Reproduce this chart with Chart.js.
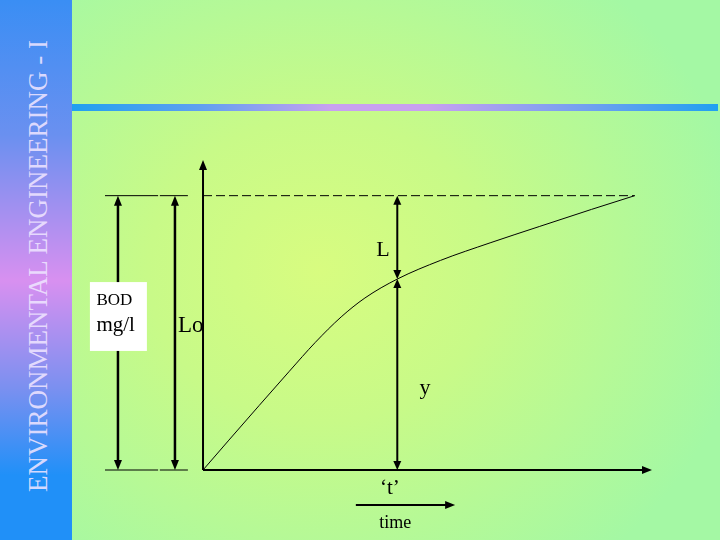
<!DOCTYPE html>
<html>
<head>
<meta charset="utf-8">
<script src="https://cdn.jsdelivr.net/npm/chart.js@4"></script>
<style>
  html,body{margin:0;padding:0;width:720px;height:540px;overflow:hidden;}
  #bg{position:absolute;left:0;top:0;width:720px;height:540px;
      background:radial-gradient(ellipse 430px 380px at 320px 270px,#d8fc80 0%,#c8fa88 40%,#a4f8a4 100%);}
  #side{position:absolute;left:0;top:0;width:72px;height:540px;
      background:linear-gradient(to bottom,#3a8ef4 0%,#6a90f0 25%,#d890f0 52%,#7a90f0 72%,#2090f8 88%,#2090f8 100%);}
  #sideText{position:absolute;left:38px;top:266px;white-space:nowrap;
      transform:translate(-50%,-50%) rotate(-90deg);
      font-family:"Liberation Serif",serif;font-size:27px;color:rgba(238,228,255,0.88);}
  #bar{position:absolute;left:72px;top:104px;width:646px;height:7px;
      background:linear-gradient(to right,#20a0f0 0%,#60a0f0 20%,#c8a0f0 40%,#c8a0f0 55%,#70a0f0 80%,#20a0f0 100%);}
  canvas{position:absolute;left:0;top:0;}
</style>
</head>
<body>
<div id="bg"></div>
<div id="side"><div id="sideText">ENVIRONMENTAL ENGINEERING - I</div></div>
<div id="bar"></div>
<canvas id="c" width="720" height="540"></canvas>
<script>
// Time (arbitrary units) and BOD exerted y (mg/l)
const timeT = [0, 0.6, 1.3, 2.0, 2.6, 3.2, 3.75, 4.5, 5.5, 6.65, 7.8, 9.0, 10.0];
const bodY  = [0, 1.09, 2.35, 3.6, 4.65, 5.58, 6.27, 6.96, 7.64, 8.28, 8.88, 9.5, 10.0];
const ultimateL0 = 10;      // ultimate BOD (dashed line)
const markT = 4.5;          // time 't'
const markY = 6.96;         // y at time 't'

const points = timeT.map((t, i) => ({x: t, y: bodY[i]}));

const ann = {
  bodArrowT: -1.97, bodTick: [-2.27, -1.04],
  loArrowT: -0.65, loTick: [-1.0, -0.35],
  box: {t0: -2.62, t1: -1.30, y0: 6.85, y1: 4.34},
  labels: [
    {text: 'BOD', t: -2.47, y: 6.17, font: '17px "Liberation Serif"', align: 'left'},
    {text: 'mg/l', t: -2.47, y: 5.25, font: '21px "Liberation Serif"', align: 'left'},
    {text: 'Lo', t: -0.58, y: 5.25, font: '23px "Liberation Serif"', align: 'left'},
    {text: 'L', t: 4.17, y: 8.02, font: '22px "Liberation Serif"', align: 'center'},
    {text: 'y', t: 5.14, y: 2.99, font: '22px "Liberation Serif"', align: 'center'},
    {text: '\u2018t\u2019', t: 4.33, y: -0.66, font: '21px "Liberation Serif"', align: 'center'},
    {text: 'time', t: 4.45, y: -1.93, font: '18px "Liberation Serif"', align: 'center'}
  ],
  timeArrow: {t0: 3.54, t1: 5.84, y: -1.28}
};

function arrowHead(ctx, x, y, dir, len, half) {
  ctx.save();
  ctx.translate(x, y);
  ctx.rotate(dir);
  ctx.beginPath();
  ctx.moveTo(0, 0);
  ctx.lineTo(-len, -half);
  ctx.lineTo(-len, half);
  ctx.closePath();
  ctx.fill();
  ctx.restore();
}
function line(ctx, x0, y0, x1, y1, w) {
  ctx.lineWidth = w;
  ctx.beginPath(); ctx.moveTo(x0, y0); ctx.lineTo(x1, y1); ctx.stroke();
}
const UP = -Math.PI/2, DOWN = Math.PI/2, RIGHT = 0;

const drawPlugin = {
  id: 'bodDiagram',
  beforeDatasetsDraw(chart) {
    const ctx = chart.ctx, xs = chart.scales.x, ys = chart.scales.y;
    const X = v => xs.getPixelForValue(v), Y = v => ys.getPixelForValue(v);
    ctx.save();
    ctx.strokeStyle = '#000'; ctx.fillStyle = '#000';
    // dashed ultimate BOD line
    ctx.setLineDash([9, 4]);
    line(ctx, X(0), Y(ultimateL0), X(timeT[timeT.length-1]), Y(ultimateL0), 1);
    ctx.setLineDash([]);
    // dimension arrows (BOD and Lo)
    [[ann.bodArrowT, ann.bodTick], [ann.loArrowT, ann.loTick]].forEach(([t, tick]) => {
      line(ctx, X(tick[0]), Y(ultimateL0), X(tick[1]), Y(ultimateL0), 1);
      line(ctx, X(tick[0]), Y(0), X(tick[1]), Y(0), 1);
      line(ctx, X(t), Y(ultimateL0) + 6, X(t), Y(0) - 6, 2.5);
      arrowHead(ctx, X(t), Y(ultimateL0), UP, 10, 4);
      arrowHead(ctx, X(t), Y(0), DOWN, 10, 4);
    });
    // BOD box
    ctx.fillStyle = '#ffffff';
    ctx.fillRect(X(ann.box.t0), Y(ann.box.y0), X(ann.box.t1) - X(ann.box.t0), Y(ann.box.y1) - Y(ann.box.y0));
    // labels
    ctx.fillStyle = '#000';
    ctx.textBaseline = 'middle';
    ann.labels.forEach(l => {
      ctx.font = l.font; ctx.textAlign = l.align;
      ctx.fillText(l.text, X(l.t), Y(l.y));
    });
    // vertical arrows at time t
    line(ctx, X(markT), Y(ultimateL0) + 6, X(markT), Y(markY) - 6, 2);
    arrowHead(ctx, X(markT), Y(ultimateL0), UP, 9, 4);
    arrowHead(ctx, X(markT), Y(markY), DOWN, 9, 4);
    line(ctx, X(markT), Y(markY) + 6, X(markT), Y(0) - 6, 2);
    arrowHead(ctx, X(markT), Y(markY), UP, 9, 4);
    arrowHead(ctx, X(markT), Y(0), DOWN, 9, 4);
    // axes
    line(ctx, X(0), Y(0), X(0), ys.top + 8, 2);
    arrowHead(ctx, X(0), ys.top, UP, 10, 4);
    line(ctx, X(0), Y(0), xs.right - 8, Y(0), 2);
    arrowHead(ctx, xs.right, Y(0), RIGHT, 10, 4);
    // time arrow
    line(ctx, X(ann.timeArrow.t0), Y(ann.timeArrow.y), X(ann.timeArrow.t1) - 6, Y(ann.timeArrow.y), 2);
    arrowHead(ctx, X(ann.timeArrow.t1), Y(ann.timeArrow.y), RIGHT, 10, 4);
    ctx.restore();
  }
};

new Chart(document.getElementById('c'), {
  type: 'line',
  data: {
    datasets: [{
      data: points,
      borderColor: '#000',
      borderWidth: 1,
      pointRadius: 0,
      fill: false,
      cubicInterpolationMode: 'monotone'
    }]
  },
  options: {
    responsive: false,
    animation: false,
    events: [],
    layout: {padding: {left: 73.5, right: 68, top: 160, bottom: 70}},
    plugins: {legend: {display: false}, tooltip: {enabled: false}},
    scales: {
      x: {type: 'linear', min: -3, max: 10.4, display: false},
      y: {type: 'linear', min: 0, max: 11.3, display: false}
    }
  },
  plugins: [drawPlugin]
});
</script>
</body>
</html>
